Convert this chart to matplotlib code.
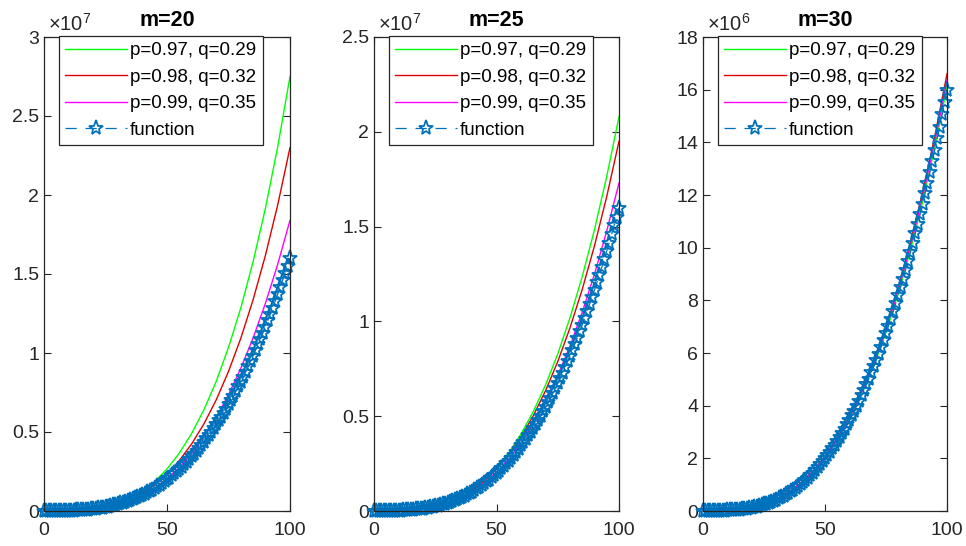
import numpy as np
import matplotlib
matplotlib.use('Agg')
import matplotlib.pyplot as plt
from matplotlib.ticker import FuncFormatter

plt.rcParams['font.family'] = ['Liberation Sans', 'DejaVu Sans']
plt.rcParams['mathtext.fontset'] = 'custom'
plt.rcParams['mathtext.rm'] = 'Liberation Sans'
plt.rcParams['mathtext.it'] = 'Liberation Sans:italic'

# values in units of 1e6
x_fun = np.arange(0, 101)
fun_vals = [
    0.00, 0.00, 0.00, 0.00, 0.00, 0.00, 0.00, 0.01, 0.01, 0.01,
    0.02, 0.02, 0.03, 0.04, 0.04, 0.05, 0.07, 0.08, 0.09, 0.11,
    0.13, 0.15, 0.17, 0.19, 0.22, 0.25, 0.28, 0.31, 0.35, 0.39,
    0.43, 0.48, 0.52, 0.57, 0.63, 0.69, 0.75, 0.81, 0.88, 0.95,
    1.02, 1.10, 1.19, 1.27, 1.36, 1.46, 1.56, 1.66, 1.77, 1.88,
    2.00, 2.12, 2.25, 2.38, 2.52, 2.66, 2.81, 2.96, 3.12, 3.29,
    3.46, 3.63, 3.81, 4.00, 4.19, 4.39, 4.60, 4.81, 5.03, 5.26,
    5.49, 5.73, 5.97, 6.22, 6.48, 6.75, 7.02, 7.30, 7.59, 7.89,
    8.19, 8.50, 8.82, 9.15, 9.48, 9.83, 10.18, 10.54, 10.90, 11.28,
    11.66, 12.06, 12.46, 12.87, 13.29, 13.72, 14.16, 14.60, 15.06, 15.52,
    16.00]

x_line = np.arange(0, 101, 5)
# m=20
g1 = [0, 0.00, 0.01, 0.04, 0.11, 0.23, 0.45, 0.78, 1.24, 1.86, 2.66, 3.66, 4.90, 6.40, 8.20, 10.35, 12.85, 15.78, 19.16, 23.05, 27.5]
r1 = [0, 0.00, 0.01, 0.04, 0.10, 0.22, 0.42, 0.71, 1.12, 1.65, 2.34, 3.19, 4.24, 5.51, 7.03, 8.83, 10.93, 13.37, 16.17, 19.37, 23.0]
m1 = [0, 0.00, 0.01, 0.04, 0.11, 0.22, 0.39, 0.65, 1.00, 1.46, 2.04, 2.76, 3.63, 4.68, 5.92, 7.36, 9.03, 10.95, 13.14, 15.61, 18.4]
# m=25
g2 = [0, 0.00, 0.01, 0.05, 0.12, 0.25, 0.44, 0.72, 1.11, 1.62, 2.27, 3.07, 4.06, 5.24, 6.64, 8.28, 10.19, 12.37, 14.84, 17.65, 20.8]
r2 = [0, 0.00, 0.01, 0.05, 0.12, 0.25, 0.44, 0.71, 1.09, 1.58, 2.20, 2.97, 3.90, 5.02, 6.34, 7.88, 9.66, 11.69, 13.99, 16.59, 19.5]
m2 = [0, 0.00, 0.01, 0.05, 0.12, 0.24, 0.42, 0.68, 1.03, 1.48, 2.05, 2.74, 3.59, 4.59, 5.77, 7.13, 8.70, 10.49, 12.50, 14.77, 17.3]
# m=30
g3 = [0, 0.00, 0.02, 0.05, 0.13, 0.25, 0.43, 0.69, 1.03, 1.47, 2.01, 2.68, 3.48, 4.42, 5.52, 6.79, 8.24, 9.89, 11.74, 13.80, 16.1]
r3 = [0, 0.00, 0.02, 0.06, 0.13, 0.26, 0.45, 0.71, 1.06, 1.51, 2.07, 2.76, 3.59, 4.56, 5.69, 7.00, 8.50, 10.19, 12.10, 14.23, 16.6]
m3 = [0, 0.00, 0.02, 0.06, 0.13, 0.26, 0.44, 0.70, 1.05, 1.49, 2.04, 2.72, 3.53, 4.49, 5.61, 6.90, 8.37, 10.04, 11.92, 14.02, 16.35]

titles = ['m=20', 'm=25', 'm=30']
labels = ['p=0.97, q=0.29', 'p=0.98, q=0.32', 'p=0.99, q=0.35', 'function']
exps = [7, 7, 6]
ylims = [3, 2.5, 18]
ysteps = [0.5, 0.5, 2]
curves = [(g1, r1, m1), (g2, r2, m2), (g3, r3, m3)]

axcol = '#262626'
fig = plt.figure(figsize=(9.66, 5.46), dpi=100)
lefts = [44, 374, 703]
widths = [246, 245, 244]

for i in range(3):
    ax = fig.add_axes([lefts[i] / 966, 35 / 546, widths[i] / 966, 474 / 546])
    sc = 10 ** (exps[i] - 6)
    g, r, m = curves[i]
    ax.plot(x_line, np.array(g) / sc, color='#00ff00', lw=1.0, label=labels[0])
    ax.plot(x_line, np.array(r) / sc, color='#e00000', lw=1.0, label=labels[1])
    ax.plot(x_line, np.array(m) / sc, color='#ff00ff', lw=1.0, label=labels[2])
    ax.plot(x_fun, np.array(fun_vals) / sc, linestyle=(0, (9, 7)), marker='*',
            color='#0072bd', mfc='none', mec='#0072bd', ms=11, mew=1.3, lw=0.9,
            label=labels[3], clip_on=False)
    ax.set_xlim(0, 100)
    ax.set_ylim(0, ylims[i])
    ax.set_xticks([0, 50, 100])
    ax.set_yticks(np.arange(0, ylims[i] + 1e-9, ysteps[i]))
    ax.yaxis.set_major_formatter(FuncFormatter(lambda v, p: '%g' % v))
    ax.tick_params(direction='in', length=5, width=0.8, colors=axcol,
                   labelsize=14, top=True, right=True)
    ax.tick_params(axis='x', pad=8)
    for s in ax.spines.values():
        s.set_color(axcol)
        s.set_linewidth(0.9)
    ax.set_title(titles[i], fontsize=15.5, fontweight='bold', pad=8)
    ax.text(0.015, 1.004, r'$\times10^{%d}$' % exps[i], transform=ax.transAxes,
            ha='left', va='bottom', fontsize=14.5, color=axcol)
    leg = ax.legend(loc='upper left', bbox_to_anchor=(0.06, 1.003), fontsize=13.5,
                    handlelength=3.3, handletextpad=0.15, labelspacing=0.5,
                    borderpad=0.35, borderaxespad=0, numpoints=1, fancybox=False,
                    framealpha=1, edgecolor=axcol)
    leg.get_frame().set_linewidth(0.9)

plt.savefig('out.png', dpi=100)
